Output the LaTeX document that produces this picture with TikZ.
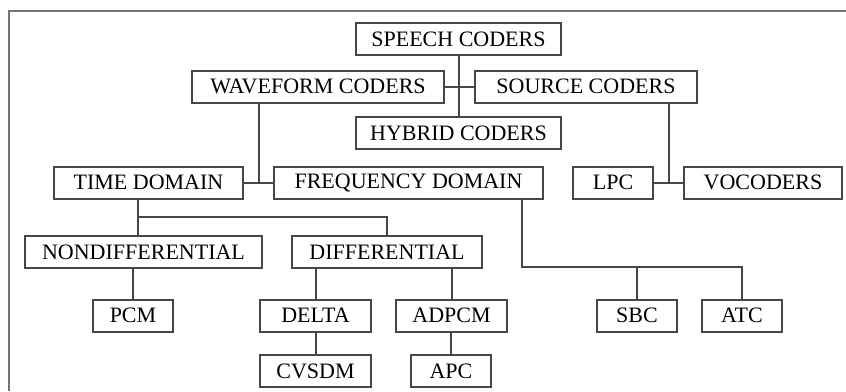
\documentclass[tikz,border=0pt]{standalone}
\usepackage{fontspec}
\setmainfont{Liberation Serif}
\usepackage{tikz}
\usetikzlibrary{calc}
\usepackage{xcolor}

\begin{document}
\begin{tikzpicture}[x=0.5pt, y=-0.5pt,
    box/.style={draw=black!72, line width=1pt, fill=white, minimum height=16pt,
        inner sep=0pt, font=\fontsize{11}{13}\selectfont, text=black},
    link/.style={draw=black!72, line width=1pt}]
    \useasboundingbox (0,0) rectangle (846,391);
    % Moldura
    \draw[black!55, line width=1.1pt] (9,391) |- (846,11);
    % Caixas
    \node[box, minimum width=102.5pt] (speech) at (458.5,39) {SPEECH CODERS};
    \node[box, minimum width=126pt] (waveform) at (318,86.5) {WAVEFORM CODERS};
    \node[box, minimum width=111pt] (source) at (586,86.5) {SOURCE CODERS};
    \node[box, minimum width=102.5pt] (hybrid) at (458.5,133) {HYBRID CODERS};
    \node[box, minimum width=94.5pt] (time) at (148.5,182.5) {TIME DOMAIN};
    \node[box, minimum width=134.5pt] (freq) at (408.5,182.5) {FREQUENCY DOMAIN};
    \node[box, minimum width=40pt] (lpc) at (613,182.5) {LPC};
    \node[box, minimum width=79pt] (vocoders) at (763,182.5) {VOCODERS};
    \node[box, minimum width=118.5pt] (nondiff) at (143.5,252) {NONDIFFERENTIAL};
    \node[box, minimum width=95pt] (diff) at (387,252) {DIFFERENTIAL};
    \node[box, minimum width=40pt] (pcm) at (133,315.5) {PCM};
    \node[box, minimum width=55.5pt] (delta) at (315.5,315.5) {DELTA};
    \node[box, minimum width=55.5pt] (adpcm) at (451.5,315.5) {ADPCM};
    \node[box, minimum width=40pt] (sbc) at (637,315.5) {SBC};
    \node[box, minimum width=40pt] (atc) at (742,315.5) {ATC};
    \node[box, minimum width=55.5pt] (cvsdm) at (315.5,371) {CVSDM};
    \node[box, minimum width=40pt] (apc) at (451,371) {APC};
    % Juncoes
    \coordinate (wfj) at ($(time.east)!0.5!(freq.west)$);
    \coordinate (scj) at ($(lpc.east)!0.5!(vocoders.west)$);
    \coordinate (tdj) at (138,217);
    \coordinate (fdj) at (522,267);
    % Ligacoes
    \draw[link] (speech.south) -- (hybrid.north);
    \draw[link] (waveform.east) -- (source.west);
    \draw[link] (time.east) -- (freq.west);
    \draw[link] (wfj |- waveform.south) -- (wfj);
    \draw[link] (lpc.east) -- (vocoders.west);
    \draw[link] (scj |- source.south) -- (scj);
    \draw[link] (tdj |- time.south) -- (tdj |- nondiff.north);
    \draw[link] (tdj) -| (diff.north);
    \draw[link] (pcm.north) -- (pcm.north |- nondiff.south);
    \draw[link] (delta.north) -- (delta.north |- diff.south);
    \draw[link] (adpcm.north) -- (adpcm.north |- diff.south);
    \draw[link] (delta.south) -- (cvsdm.north);
    \draw[link] (apc.north) -- (apc.north |- adpcm.south);
    \draw[link] (fdj |- freq.south) -- (fdj) -| (atc.north);
    \draw[link] (sbc.north) -- (sbc.north |- fdj);
\end{tikzpicture}
\end{document}
